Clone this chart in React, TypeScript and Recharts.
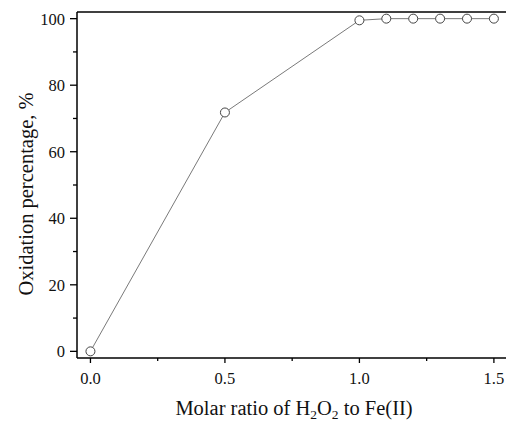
import { LineChart, Line, XAxis, YAxis, ReferenceLine } from 'recharts'

// Oxidation percentage vs molar ratio H2O2 : Fe(II)
const ratio = [0, 0.5, 1.0, 1.1, 1.2, 1.3, 1.4, 1.5]
const oxidation = [0, 71.8, 99.5, 100, 100, 100, 100, 100]

const xTicks = [0, 0.25, 0.5, 0.75, 1.0, 1.25, 1.5]
const xMajor = [0, 0.5, 1.0, 1.5]
const yTicks = [0, 10, 20, 30, 40, 50, 60, 70, 80, 90, 100]
const yMajor = [0, 20, 40, 60, 80, 100]

const data = ratio.map((r, i) => ({ ratio: r, oxidation: oxidation[i] }))

const FONT = '"Liberation Serif", "DejaVu Serif", serif'

function XTick(props: any) {
  const { x, y, payload } = props
  const major = xMajor.includes(payload.value)
  return (
    <g>
      <line x1={x} x2={x} y1={y} y2={y + (major ? 5 : 3)} stroke="#000" strokeWidth={1.3} />
      {major && (
        <text x={x} y={y + 26} textAnchor="middle" fontFamily={FONT} fontSize={16.5} fill="#111">
          {payload.value.toFixed(1)}
        </text>
      )}
    </g>
  )
}

function YTick(props: any) {
  const { x, y, payload } = props
  const major = yMajor.includes(payload.value)
  return (
    <g>
      <line x1={x} x2={x - (major ? 7 : 4)} y1={y} y2={y} stroke="#000" strokeWidth={1.3} />
      {major && (
        <text x={x - 12} y={y + 6} textAnchor="end" fontFamily={FONT} fontSize={16.5} fill="#111">
          {payload.value}
        </text>
      )}
    </g>
  )
}

const XTitle = () => (
  <text x={294} y={415} textAnchor="middle" fontFamily={FONT} fontSize={20.5} fill="#111">
    Molar ratio of H<tspan dy={4} fontSize={13.5}>2</tspan>
    <tspan dy={-4}>O</tspan>
    <tspan dy={4} fontSize={13.5}>2</tspan>
    <tspan dy={-4}> to Fe(II)</tspan>
  </text>
)

const YTitle = () => (
  <text
    x={0}
    y={0}
    transform="translate(33, 194) rotate(-90)"
    textAnchor="middle"
    fontFamily={FONT}
    fontSize={20.5}
    fill="#111"
  >
    Oxidation percentage, %
  </text>
)

export default function App() {
  return (
    <div style={{ position: 'absolute', left: 0, top: 0, background: '#fff' }}>
      <LineChart
        width={506}
        height={423}
        data={data}
        margin={{ top: 12, right: 0, bottom: 35, left: 17 }}
      >
        <XAxis
          type="number"
          dataKey="ratio"
          domain={[-0.05, 1.545]}
          ticks={xTicks}
          allowDataOverflow
          height={30}
          tickSize={0}
          tickMargin={0}
          tick={<XTick />}
          axisLine={{ stroke: '#000', strokeWidth: 1.5 }}
          interval={0}
          label={{ content: <XTitle /> }}
        />
        <YAxis
          type="number"
          domain={[-2, 102]}
          ticks={yTicks}
          allowDataOverflow
          width={60}
          tickSize={0}
          tickMargin={0}
          tick={<YTick />}
          axisLine={{ stroke: '#000', strokeWidth: 1.5 }}
          interval={0}
          label={{ content: <YTitle /> }}
        />
        <ReferenceLine y={102} stroke="#000" strokeWidth={1.5} />
        <Line
          type="linear"
          dataKey="oxidation"
          stroke="#7a7a7a"
          strokeWidth={1}
          dot={{ r: 4.5, stroke: '#444', strokeWidth: 1, fill: '#fff' }}
          isAnimationActive={false}
        />
      </LineChart>
    </div>
  )
}
